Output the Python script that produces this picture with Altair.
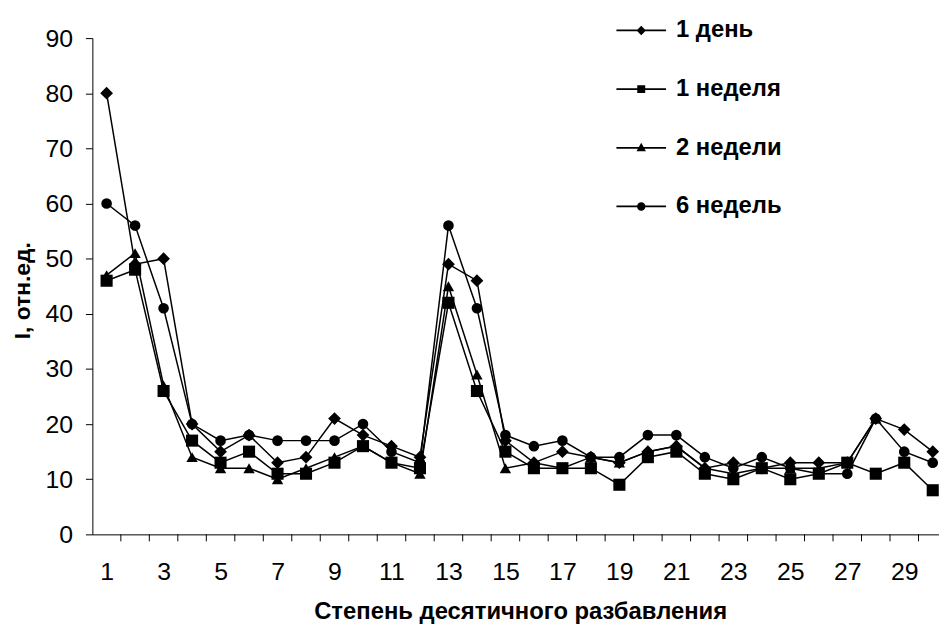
import altair as alt
import pandas as pd

# ---- data ----
names = ["1 день", "1 неделя", "2 недели", "6 недель"]
day1 = [80, 49, 50, 20, 15, 18, 13, 14, 21, 18, 16, 14, 49, 46, 17, 13, 15, 14, 13, 15,
        16, 12, 13, 12, 13, 13, 13, 21, 19, 15]
week1 = [46, 48, 26, 17, 13, 15, 11, 11, 13, 16, 13, 12, 42, 26, 15, 12, 12, 12, 9, 14,
         15, 11, 10, 12, 10, 11, 13, 11, 13, 8]
week2 = [47, 51, 27, 14, 12, 12, 10, 12, 14, 16, 13, 11, 45, 29, 12, 13, 12, 14, 13, 15,
         16, 12, 11, 12, 12, 12, 13, 21]
week6 = [60, 56, 41, 20, 17, 18, 17, 17, 17, 20, 15, 13, 56, 41, 18, 16, 17, 14, 14, 18,
         18, 14, 12, 14, 12, 11, 11, 21, 15, 13]
x_tick_labels = list(range(1, 30, 2))
y_tick_values = list(range(0, 91, 10))
category_bounds = [k + 0.5 for k in range(1, 30)]

rows = []
for name, vals in zip(names, [day1, week1, week2, week6]):
    for i, v in enumerate(vals):
        rows.append({"x": i + 1, "y": v, "series": name})
df = pd.DataFrame(rows)
bounds_df = pd.DataFrame({"b": category_bounds})

FONT = "Liberation Sans"
xscale = alt.Scale(domain=[0.5, 30.22], nice=False, zero=False)
yscale = alt.Scale(domain=[0, 90], nice=False, zero=True)

x_axis = alt.Axis(
    values=x_tick_labels, ticks=False, tickSize=0, labelPadding=25,
    labelFont=FONT, labelFontSize=25, labelColor="black", labelFlush=False,
    labelOverlap=False, domainColor="black", domainWidth=1, grid=False,
    title="Степень десятичного разбавления", titleFont=FONT, titleFontSize=24,
    titleFontWeight="bold", titleColor="black", titleX=431, titleY=85,
    titleAlign="center", titleBaseline="alphabetic",
)
y_axis = alt.Axis(
    values=y_tick_values, tickSize=7, tickColor="black", tickWidth=1,
    labelPadding=13, labelFont=FONT, labelFontSize=25, labelColor="black",
    domainColor="black", domainWidth=1, grid=False,
    title="I, отн.ед.", titleFont=FONT, titleFontSize=23, titleFontWeight="bold",
    titleColor="black", titleX=-70, titleY=254, titleAngle=270,
    titleAlign="center", titleBaseline="middle",
)

lines = alt.Chart(df).mark_line(color="black", strokeWidth=1.5).encode(
    x=alt.X("x:Q", scale=xscale, axis=x_axis),
    y=alt.Y("y:Q", scale=yscale, axis=y_axis),
    detail="series:N",
)

points = alt.Chart(df).mark_point(filled=True, color="black", opacity=1).encode(
    x=alt.X("x:Q", scale=xscale),
    y=alt.Y("y:Q", scale=yscale),
    shape=alt.Shape("series:N",
                    scale=alt.Scale(domain=names,
                                    range=["diamond", "square", "triangle-up", "circle"]),
                    legend=None),
    size=alt.Size("series:N",
                  scale=alt.Scale(domain=names, range=[165, 115, 150, 130]),
                  legend=None),
)

cat_ticks = alt.Chart(bounds_df).mark_rule(color="black", strokeWidth=1).encode(
    x=alt.X("b:Q", scale=xscale),
    y=alt.value(500),
    y2=alt.value(507),
)

# legend symbols: thin filled bar (the line) plus the marker, all clockwise
BAR = "M-1,-0.035L1,-0.035L1,0.035L-1,0.035Z"
legend_paths = [
    BAR + "M0,-0.19L0.19,0L0,0.19L-0.19,0Z",
    BAR + "M-0.16,-0.16L0.16,-0.16L0.16,0.16L-0.16,0.16Z",
    BAR + "M0,-0.2L0.19,0.14L-0.19,0.14Z",
    BAR + "M-0.17,0A0.17,0.17,0,1,1,0.17,0A0.17,0.17,0,1,1,-0.17,0Z",
]

legend_layer = alt.Chart(df).transform_filter("false").mark_point(
    filled=True, color="black"
).encode(
    x=alt.X("x:Q", scale=xscale),
    y=alt.Y("y:Q", scale=yscale),
    shape=alt.Shape(
        "series:N",
        scale=alt.Scale(domain=names, range=legend_paths),
        legend=alt.Legend(
            title=None, orient="none", legendX=527, legendY=-33.7, padding=0,
            symbolSize=2500, symbolFillColor="black", symbolOpacity=1,
            labelFont=FONT, labelFontSize=24, labelFontWeight="bold",
            labelColor="black", labelOffset=9, labelLimit=400, rowPadding=21.1,
        ),
    ),
)

chart = (
    alt.layer(lines, cat_ticks, points, legend_layer)
    .resolve_scale(shape="independent", size="independent")
    .properties(
        width=853, height=500,
        autosize=alt.AutoSizeParams(type="none"),
        padding={"left": 85, "top": 28, "right": 0, "bottom": 91},
        background="white",
    )
    .configure_view(stroke=None)
)

chart.save("out.html", embed_options={"renderer": "svg", "actions": False})
